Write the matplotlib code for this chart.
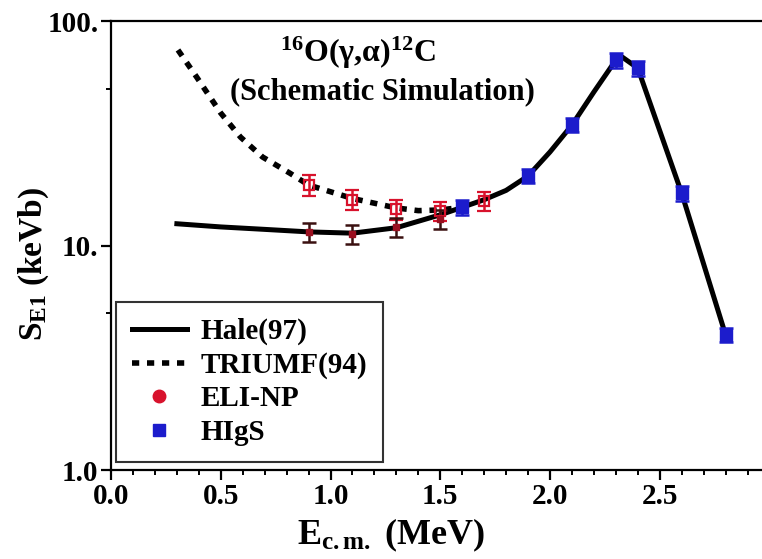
import numpy as np
import matplotlib.pyplot as plt
from matplotlib.lines import Line2D
from matplotlib.ticker import FixedLocator, NullFormatter

plt.rcParams['font.family'] = 'Liberation Serif'
plt.rcParams['font.weight'] = 'bold'
plt.rcParams['axes.labelweight'] = 'bold'
plt.rcParams['mathtext.fontset'] = 'custom'
plt.rcParams['mathtext.rm'] = 'Liberation Serif:bold'
plt.rcParams['mathtext.it'] = 'Liberation Serif:bold:italic'
plt.rcParams['mathtext.bf'] = 'Liberation Serif:bold'

# Hale(97) curve
hale_x = [0.3, 0.5, 0.7, 0.9, 1.1, 1.3, 1.5, 1.6, 1.7, 1.8, 1.9, 2.0, 2.1, 2.2, 2.3, 2.33, 2.4, 2.6, 2.8]
hale_y = [12.5, 12.1, 11.8, 11.5, 11.35, 12.0, 13.7, 14.8, 16.0, 17.6, 20.4, 26.1, 34.4, 48.3, 67.0, 69.0, 61.7, 17.1, 4.0]

# TRIUMF(94) curve
triumf_x = [0.305, 0.39, 0.5, 0.59, 0.69, 0.815, 0.9, 1.1, 1.3, 1.4, 1.5, 1.6]
triumf_y = [74.3, 56.3, 38.9, 30.4, 24.8, 21.0, 18.6, 16.2, 14.7, 14.3, 14.4, 14.8]

# ELI-NP simulated points (on TRIUMF and on Hale)
eli_t_x = [0.9, 1.1, 1.3, 1.5, 1.7]
eli_t_y = [18.6, 16.0, 14.5, 14.2, 15.8]
eli_t_err = [2.0, 1.6, 1.5, 1.4, 1.5]
eli_h_x = [0.9, 1.1, 1.3, 1.5]
eli_h_y = [11.5, 11.3, 12.1, 13.1]
eli_h_err = [1.1, 1.1, 1.2, 1.3]

# HIgS points
higs_x = [1.6, 1.9, 2.1, 2.3, 2.4, 2.6, 2.8]
higs_y = [14.8, 20.4, 34.4, 67.0, 61.7, 17.1, 4.0]
higs_err = [1.1, 1.5, 2.5, 5.0, 5.0, 1.3, 0.3]

xticks = [0.0, 0.5, 1.0, 1.5, 2.0, 2.5]
xticklabels = ['0.0', '0.5', '1.0', '1.5', '2.0', '2.5']
yticks = [1, 10, 100]
yticklabels = ['1.0', '10.', '100.']

red = '#d8122c'
blue = '#1c1ccc'
dash = (0, (1.3, 1.4))

fig = plt.figure(figsize=(7.62, 5.59), dpi=100)
ax = fig.add_axes([0.1457, 0.1592, 1 - 0.1457, 0.8032])

ax.plot(hale_x, hale_y, color='black', lw=3.6, zorder=2)
ax.plot(triumf_x, triumf_y, color='black', lw=4.0, linestyle=dash, zorder=2)

ax.errorbar(eli_t_x, eli_t_y, yerr=eli_t_err, fmt='s', mfc='none', mec=red, mew=1.6,
            ms=7, ecolor=red, elinewidth=1.8, capsize=5, capthick=1.8, zorder=3)
ax.errorbar(eli_h_x, eli_h_y, yerr=eli_h_err, fmt='s', color='#9a1020', ms=5,
            ecolor='#3a1010', elinewidth=1.8, capsize=5, capthick=1.8, zorder=3)
ax.errorbar(higs_x, higs_y, yerr=higs_err, fmt='s', color=blue, ms=8,
            ecolor=blue, elinewidth=1.8, capsize=5, capthick=1.8, zorder=4)

ax.set_yscale('log')
ax.set_xlim(0, 2.966)
ax.set_ylim(1, 100)
ax.set_xticks(xticks)
ax.set_xticklabels(xticklabels)
ax.xaxis.set_minor_locator(FixedLocator(np.arange(0.1, 2.97, 0.1)))
ax.set_yticks(yticks)
ax.set_yticklabels(yticklabels)
ax.yaxis.set_minor_locator(FixedLocator([5, 50]))
ax.yaxis.set_minor_formatter(NullFormatter())

ax.tick_params(which='major', direction='out', length=7, width=1.6, labelsize=21, pad=2)
ax.tick_params(which='minor', direction='out', length=3.6, width=1.4)
ax.spines['right'].set_visible(False)
for s in ['left', 'bottom', 'top']:
    ax.spines[s].set_linewidth(1.6)

ax.set_xlabel(r'E$_{\mathrm{c.m.}}$ (MeV)', fontsize=26)
ax.set_ylabel(r'S$_{\mathrm{E1}}$ (keVb)', fontsize=24)
ax.xaxis.set_label_coords(0.43, -0.105)
ax.yaxis.set_label_coords(-0.092, 0.46)

ax.text(0.379, 0.929, r'$^{16}$O(γ,α)$^{12}$C', transform=ax.transAxes,
        ha='center', va='center', fontsize=23)
ax.text(0.417, 0.842, '(Schematic Simulation)', transform=ax.transAxes,
        ha='center', va='center', fontsize=22)

handles = [
    Line2D([], [], color='black', lw=3.6),
    Line2D([], [], color='black', lw=4.0, linestyle=dash),
    Line2D([], [], color=red, marker='o', ls='none', ms=9),
    Line2D([], [], color=blue, marker='s', ls='none', ms=8),
]
labels = ['Hale(97)', 'TRIUMF(94)', 'ELI-NP', 'HIgS']
leg = ax.legend(handles, labels, loc='lower left', bbox_to_anchor=(0.007, 0.018),
                borderaxespad=0, fontsize=21, frameon=True, fancybox=False,
                edgecolor='black', handlelength=1.9, labelspacing=0.22,
                borderpad=0.55, handletextpad=0.45)
leg.get_frame().set_linewidth(1.5)
leg.set_zorder(5)

fig.savefig('out.png', dpi=100)
